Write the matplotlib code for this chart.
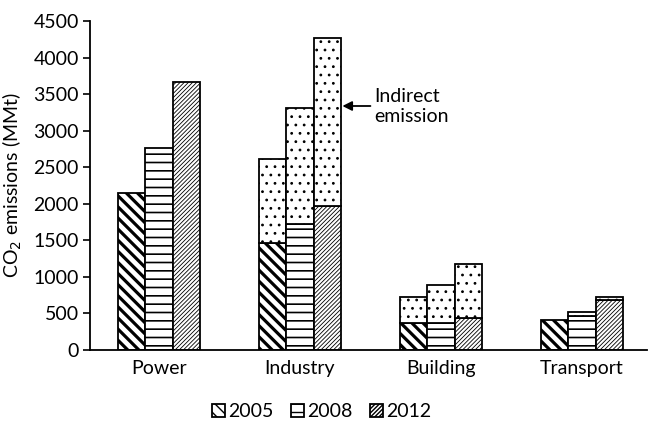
import matplotlib
matplotlib.use("Agg")
import matplotlib.pyplot as plt
from matplotlib.patches import Patch
import numpy as np

categories = ["Power", "Industry", "Building", "Transport"]
years = ["2005", "2008", "2012"]
direct = {
    "2005": [2150, 1460, 365, 410],
    "2008": [2770, 1720, 375, 470],
    "2012": [3670, 1965, 435, 685],
}
indirect = {
    "2005": [0, 1150, 365, 0],
    "2008": [0, 1590, 515, 45],
    "2012": [0, 2300, 745, 40],
}
yticks = [0, 500, 1000, 1500, 2000, 2500, 3000, 3500, 4000, 4500]

plt.rcParams['font.family'] = ['Lato', 'DejaVu Sans']
plt.rcParams['hatch.color'] = 'black'

hatches = {"2005": "\\\\\\", "2008": "--", "2012": "////////"}
hlw = {"2005": 2.3, "2008": 1.2, "2012": 0.6}
FS = 14

fig = plt.figure(figsize=(6.48, 4.21), dpi=100)
ax = fig.add_axes([0.139, 0.1686, 0.859, 0.7814])

x = np.arange(len(categories))
w = 0.194
offsets = [-w, 0, w]

for yr, off in zip(years, offsets):
    bars = ax.bar(x + off, direct[yr], width=w, facecolor='white', edgecolor='black',
                  linewidth=1.3, hatch=hatches[yr])
    for b in bars:
        b.set_hatch_linewidth(hlw[yr])
    ind = indirect[yr]
    bars2 = ax.bar(x + off, ind, bottom=direct[yr], width=w, facecolor='white',
                   edgecolor='black', linewidth=1.3, hatch='..')
    for b, v in zip(bars2, ind):
        b.set_hatch_linewidth(0.8)
        if v == 0:
            b.set_visible(False)

ax.set_xlim(-0.489, 3.46)
ax.set_ylim(0, 4500)
ax.set_yticks(yticks)
ax.set_xticks(x)
ax.set_xticklabels(categories, fontsize=FS)
ax.tick_params(axis='x', length=0, pad=7)
ax.tick_params(axis='y', direction='out', length=5, width=1.2, labelsize=FS, pad=3)
for s in ['top', 'right']:
    ax.spines[s].set_visible(False)
for s in ['left', 'bottom']:
    ax.spines[s].set_linewidth(1.3)
ax.set_ylabel("CO$_2$ emissions (MMt)", fontsize=FS)
ax.yaxis.set_label_coords(-0.118, 0.5)

ax.annotate("", xy=(1 + w + w / 2 + 0.01, 3338), xytext=(1.50, 3338),
            arrowprops=dict(arrowstyle='-|>', color='black', lw=1.3,
                            mutation_scale=14, shrinkA=0, shrinkB=0))
ax.text(1.53, 3330, "Indirect\nemission", fontsize=FS, ha='left', va='center',
        linespacing=1.25)

handles = []
for yr in years:
    p = Patch(facecolor='white', edgecolor='black', hatch=hatches[yr], linewidth=1.3, label=yr)
    p.set_hatch_linewidth(hlw[yr])
    handles.append(p)
fig.legend(handles=handles, loc='center', bbox_to_anchor=(0.496, 0.022), ncol=3,
           frameon=False, fontsize=FS, handlelength=0.68, handleheight=0.68,
           handletextpad=0.15, columnspacing=0.9, borderpad=0.1)

fig.savefig("out.png", dpi=100, facecolor='white')
